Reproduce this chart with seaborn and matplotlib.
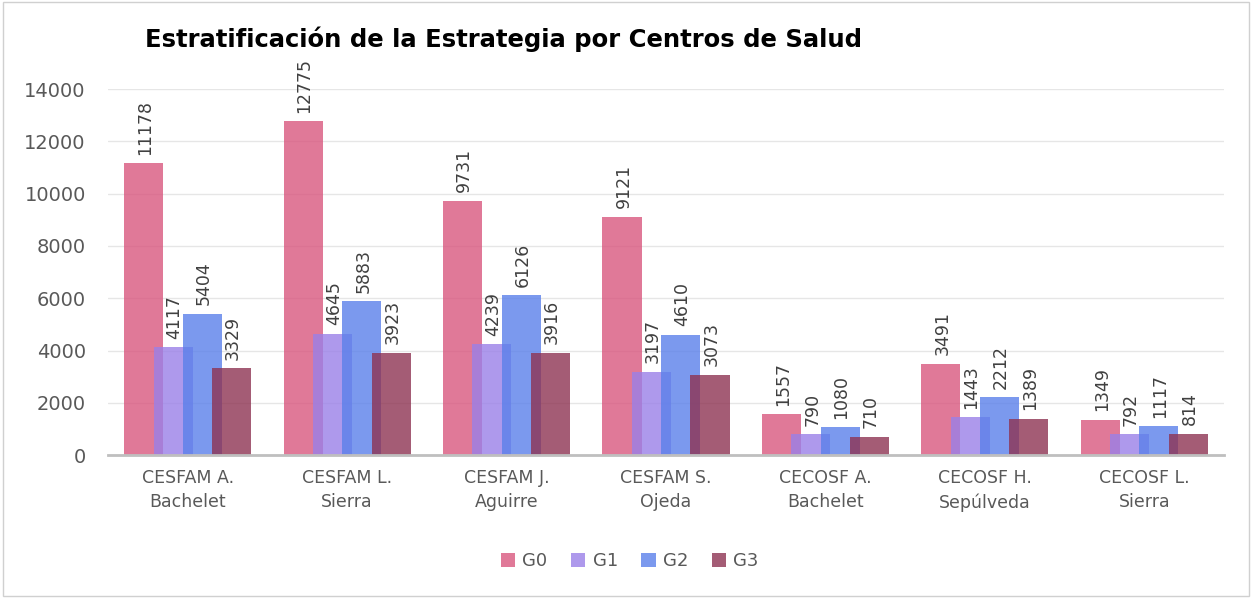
import numpy as np
import pandas as pd
import matplotlib
matplotlib.use("Agg")
import matplotlib.pyplot as plt
import seaborn as sns

centros = ["CESFAM A.\nBachelet", "CESFAM L.\nSierra", "CESFAM J.\nAguirre", "CESFAM S.\nOjeda",
           "CECOSF A.\nBachelet", "CECOSF H.\nSepúlveda", "CECOSF L.\nSierra"]
grupos = ["G0", "G1", "G2", "G3"]
g0 = [11178, 12775, 9731, 9121, 1557, 3491, 1349]
g1 = [4117, 4645, 4239, 3197, 790, 1443, 792]
g2 = [5404, 5883, 6126, 4610, 1080, 2212, 1117]
g3 = [3329, 3923, 3916, 3073, 710, 1389, 814]
colores = ["#D9577F", "#9A80E8", "#5A80EA", "#8E3352"]

df = pd.DataFrame({
    "Centro": centros * 4,
    "Grupo": np.repeat(grupos, len(centros)),
    "Valor": g0 + g1 + g2 + g3,
})

sns.set_style("white")
plt.rcParams['font.family'] = ['DejaVu Sans']

fig = plt.figure(figsize=(12.52, 5.98), dpi=100)
ax = fig.add_axes([0.0863, 0.239, 0.8913, 0.612])

sns.barplot(data=df, x="Centro", y="Valor", hue="Grupo", palette=colores,
            order=centros, hue_order=grupos, width=0.8, alpha=0.8, saturation=1,
            edgecolor="none", ax=ax)

# widen bars so neighbours overlap like the original
bar_w = 0.245
for cont in ax.containers:
    for p in cont:
        c = p.get_x() + p.get_width() / 2
        g = round(c)
        nc = g + (c - g) * 0.92
        p.set_x(nc - bar_w / 2)
        p.set_width(bar_w)

for cont in ax.containers:
    for p in cont:
        h = p.get_height()
        ax.annotate(f"{int(h)}", (p.get_x() + p.get_width() / 2, h),
                    xytext=(1, 6), textcoords="offset points", rotation=90,
                    ha="center", va="bottom", fontsize=12.5, color="#404040",
                    annotation_clip=False)

ax.set_xlim(-0.5, 6.5)
ax.set_ylim(0, 14000)
ax.set_yticks(range(0, 14001, 2000))
ax.yaxis.grid(True, color="#E6E6E6", linewidth=1)
ax.set_axisbelow(True)
for s in ["top", "right", "left"]:
    ax.spines[s].set_visible(False)
ax.spines["bottom"].set_color("#BFBFBF")
ax.spines["bottom"].set_linewidth(2)
ax.tick_params(axis="y", labelsize=14, labelcolor="#595959", length=0, pad=16)
ax.tick_params(axis="x", labelsize=12.5, labelcolor="#595959", length=0, pad=10)
for t in ax.get_xticklabels():
    t.set_linespacing(1.45)
ax.set_xlabel("")
ax.set_ylabel("")

handles, labels = ax.get_legend_handles_labels()
ax.get_legend().remove()
fig.legend(handles, labels, loc="center", bbox_to_anchor=(0.503, 0.062), ncol=4, frameon=False,
           fontsize=13, handlelength=0.8, handleheight=0.8, handletextpad=0.4,
           columnspacing=1.3, labelcolor="#595959")

fig.text(0.116, 0.935, "Estratificación de la Estrategia por Centros de Salud",
         fontsize=17.5, fontweight="bold", color="#000000", ha="left", va="center")

fig.patches.append(plt.Rectangle((0.002, 0.003), 0.996, 0.994, transform=fig.transFigure,
                                 fill=False, edgecolor="#D0D0D0", linewidth=1))

fig.savefig("out.png", dpi=100)
